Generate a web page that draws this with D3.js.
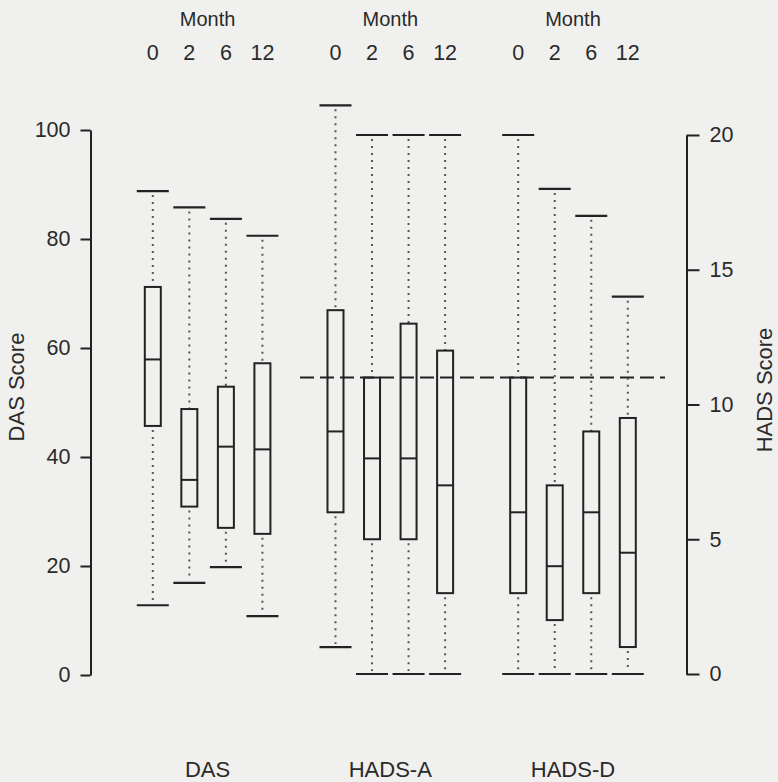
<!DOCTYPE html>
<html>
<head>
<meta charset="utf-8">
<script src="https://cdn.jsdelivr.net/npm/d3@7"></script>
<style>
  html, body { margin: 0; padding: 0; background: #f0f0ee; }
  svg { display: block; }
  text { font-family: "Liberation Sans", Arial, sans-serif; fill: #2a2a2a; }
</style>
</head>
<body>
<script>
// ---- data ----
const groups = ["DAS", "HADS-A", "HADS-D"];
const months = ["0", "2", "6", "12"];
const dasTicks = [0, 20, 40, 60, 80, 100];
const hadsTicks = [0, 5, 10, 15, 20];
const hadsCutoff = 11;

// DAS (left axis)
const dasMin    = [12.8, 16.9, 19.8, 10.8];
const dasQ1     = [45.7, 30.9, 27.0, 25.9];
const dasMedian = [57.9, 35.8, 41.9, 41.4];
const dasQ3     = [71.2, 48.8, 52.9, 57.2];
const dasMax    = [88.8, 85.8, 83.7, 80.6];

// HADS-A (right axis)
const hadsAMin    = [1, 0, 0, 0];
const hadsAQ1     = [6, 5, 5, 3];
const hadsAMedian = [9, 8, 8, 7];
const hadsAQ3     = [13.5, 11, 13, 12];
const hadsAMax    = [21.1, 20, 20, 20];

// HADS-D (right axis)
const hadsDMin    = [0, 0, 0, 0];
const hadsDQ1     = [3, 2, 3, 1];
const hadsDMedian = [6, 4, 6, 4.5];
const hadsDQ3     = [11, 7, 9, 9.5];
const hadsDMax    = [20, 18, 17, 14];

// ---- build ----
const W = 778, H = 782;
const svg = d3.select("body").append("svg").attr("width", W).attr("height", H);
svg.append("rect").attr("width", W).attr("height", H).attr("fill", "#f0f0ee");

const yL = d3.scaleLinear().domain([0, 100]).range([675, 130]);
const yR = d3.scaleLinear().domain([0, 20]).range([674, 135]);
const x = d3.scaleLinear().domain([0, 13]).range([152.8, 627.8]);

const series = [
  { name: groups[0], scale: yL, min: dasMin, q1: dasQ1, med: dasMedian, q3: dasQ3, max: dasMax },
  { name: groups[1], scale: yR, min: hadsAMin, q1: hadsAQ1, med: hadsAMedian, q3: hadsAQ3, max: hadsAMax },
  { name: groups[2], scale: yR, min: hadsDMin, q1: hadsDQ1, med: hadsDMedian, q3: hadsDQ3, max: hadsDMax }
];

const boxes = [];
series.forEach((s, g) => {
  months.forEach((m, i) => {
    boxes.push({ g, i, pos: g * 5 + i, y: s.scale,
      min: s.min[i], q1: s.q1[i], med: s.med[i], q3: s.q3[i], max: s.max[i] });
  });
});

// Axes
const axL = svg.append("g").attr("transform", "translate(90.5,0)")
  .call(d3.axisLeft(yL).tickValues(dasTicks).tickSize(10).tickSizeOuter(0).tickPadding(10));
const axR = svg.append("g").attr("transform", "translate(686.5,0)")
  .call(d3.axisRight(yR).tickValues(hadsTicks).tickSize(13).tickSizeOuter(0).tickPadding(10));
[axL, axR].forEach(a => {
  a.selectAll("path.domain").attr("stroke", "#222").attr("stroke-width", 2);
  a.selectAll(".tick line").attr("stroke", "#222").attr("stroke-width", 2);
  a.selectAll(".tick text").style("font-size", "21.5px").attr("fill", "#2a2a2a")
    .style("font-family", "'Liberation Sans', Arial, sans-serif");
});

// Axis titles
svg.append("text").attr("transform", "translate(24,387) rotate(-90)")
  .attr("text-anchor", "middle").style("font-size", "22px").text("DAS Score");
svg.append("text").attr("transform", "translate(772,390) rotate(-90)")
  .attr("text-anchor", "middle").style("font-size", "22px").text("HADS Score");

// Cutoff dashed line
svg.append("line")
  .attr("x1", 300).attr("x2", 665)
  .attr("y1", yR(hadsCutoff)).attr("y2", yR(hadsCutoff))
  .attr("stroke", "#222").attr("stroke-width", 2).attr("stroke-dasharray", "14,6");

const boxW = 16, capW = 32;
const gB = svg.append("g");
// whiskers (dotted)
gB.selectAll("line.wu").data(boxes).join("line").attr("class", "wu")
  .attr("x1", d => x(d.pos)).attr("x2", d => x(d.pos))
  .attr("y1", d => d.y(d.max) + 4).attr("y2", d => d.y(d.q3))
  .attr("stroke", "#555").attr("stroke-width", 2).attr("stroke-dasharray", "2,5");
gB.selectAll("line.wl").data(boxes).join("line").attr("class", "wl")
  .attr("x1", d => x(d.pos)).attr("x2", d => x(d.pos))
  .attr("y1", d => d.y(d.q1) + 4).attr("y2", d => d.y(d.min) - 3)
  .attr("stroke", "#555").attr("stroke-width", 2).attr("stroke-dasharray", "2,5");
// caps
gB.selectAll("line.cmax").data(boxes).join("line").attr("class", "cmax")
  .attr("x1", d => x(d.pos) - capW / 2).attr("x2", d => x(d.pos) + capW / 2)
  .attr("y1", d => d.y(d.max)).attr("y2", d => d.y(d.max))
  .attr("stroke", "#222").attr("stroke-width", 2.2);
gB.selectAll("line.cmin").data(boxes).join("line").attr("class", "cmin")
  .attr("x1", d => x(d.pos) - capW / 2).attr("x2", d => x(d.pos) + capW / 2)
  .attr("y1", d => d.y(d.min)).attr("y2", d => d.y(d.min))
  .attr("stroke", "#222").attr("stroke-width", 2.2);
// boxes
gB.selectAll("rect.box").data(boxes).join("rect").attr("class", "box")
  .attr("x", d => x(d.pos) - boxW / 2).attr("width", boxW)
  .attr("y", d => d.y(d.q3)).attr("height", d => d.y(d.q1) - d.y(d.q3))
  .attr("fill", "none").attr("stroke", "#222").attr("stroke-width", 2);
// medians
gB.selectAll("line.med").data(boxes).join("line").attr("class", "med")
  .attr("x1", d => x(d.pos) - boxW / 2).attr("x2", d => x(d.pos) + boxW / 2)
  .attr("y1", d => d.y(d.med)).attr("y2", d => d.y(d.med))
  .attr("stroke", "#222").attr("stroke-width", 2);

// Top month labels
groups.forEach((gname, g) => {
  const c = (x(g * 5 + 1) + x(g * 5 + 2)) / 2;
  svg.append("text").attr("x", c).attr("y", 26).attr("text-anchor", "middle")
    .style("font-size", "20px").text("Month");
  months.forEach((m, i) => {
    svg.append("text").attr("x", x(g * 5 + i)).attr("y", 60).attr("text-anchor", "middle")
      .style("font-size", "21.5px").text(m);
  });
  svg.append("text").attr("x", c).attr("y", 777).attr("text-anchor", "middle")
    .style("font-size", "22px").text(gname);
});
</script>
</body>
</html>
